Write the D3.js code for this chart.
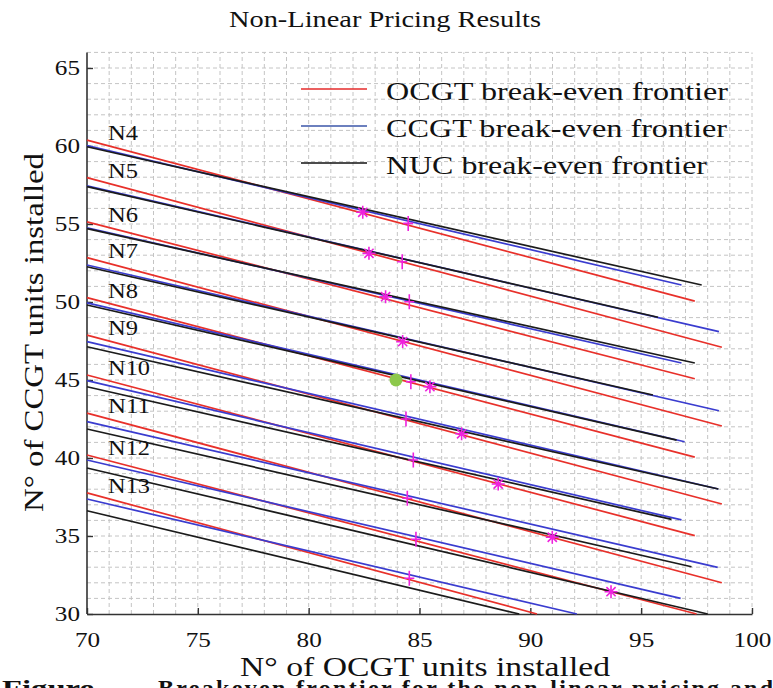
<!DOCTYPE html>
<html>
<head>
<meta charset="utf-8">
<script src="https://cdn.jsdelivr.net/npm/d3@7"></script>
<style>
  html, body { margin: 0; padding: 0; background: #fff; }
  svg { display: block; }
  svg text { font-family: "Liberation Serif", "Times New Roman", serif !important; fill: #111; }
</style>
</head>
<body>
<svg id="chart" width="773" height="688"></svg>
<script>
// Groups of installed nuclear units
const groups = ["N4", "N5", "N6", "N7", "N8", "N9", "N10", "N11", "N12", "N13"];

// Break-even frontiers: value at OCGT = 70 and the [OCGT, CCGT] end point of each line
const ocgtStart = [60.38, 57.97, 55.14, 52.84, 50.28, 47.88, 45.32, 42.88, 40.19, 37.76];
const ocgtEnd = [[97.42, 50.06], [98.64, 47.10], [97.42, 45.08], [98.64, 42.05], [97.42, 40.06],
                 [98.64, 37.05], [97.42, 35.02], [98.64, 32.00], [97.50, 30.00], [90.30, 30.00]];

const ccgtStart = [60.02, 57.44, 54.76, 52.37, 49.94, 47.46, 44.96, 42.33, 39.87, 37.37];
const ccgtEnd = [[96.82, 51.09], [98.51, 48.10], [96.82, 46.09], [98.51, 43.03], [96.96, 41.04],
                 [98.48, 38.01], [96.82, 36.03], [98.45, 32.99], [96.78, 31.00], [92.10, 30.00]];

const nucStart = [59.95, 57.40, 54.70, 52.26, 49.81, 47.13, 44.57, 41.86, 39.36, 36.62];
const nucEnd = [[97.73, 51.09], [95.76, 49.02], [97.42, 46.09], [95.53, 44.04], [96.60, 41.15],
                [98.48, 38.01], [96.37, 36.07], [97.27, 33.03], [98.00, 30.00], [89.50, 30.00]];

// Equilibrium markers
const starPoints = [[82.44, 55.75], [82.72, 53.12], [83.47, 50.34], [84.24, 47.46], [85.47, 44.57],
                    [86.90, 41.55], [88.55, 38.33], [90.99, 34.92], [93.64, 31.43]];
const plusPoints = [[84.49, 55.04], [84.22, 52.58], [84.54, 50.02], [84.61, 44.89], [84.39, 42.50],
                    [84.72, 39.87], [84.45, 37.42], [84.84, 34.79], [84.54, 32.29]];
const greenPoint = [83.94, 45.00];

const xTicks = [70, 75, 80, 85, 90, 95, 100];
const yTicks = [30, 35, 40, 45, 50, 55, 60, 65];

const seriesNames = ["OCGT break-even frontier", "CCGT break-even frontier", "NUC break-even frontier"];
const seriesColors = ["#e8302a", "#3a3ccf", "#1b1b1b"];
const legendColors = ["#e52b2b", "#3b56a8", "#111111"];

const SERIF = '"Liberation Serif", "Times New Roman", serif';

const svg = d3.select("#chart");
const x = d3.scaleLinear().domain([70, 100]).range([87, 752]);
const y = d3.scaleLinear().domain([30, 66]).range([614, 52.4]);

// Title
svg.append("text")
  .attr("x", 385).attr("y", 27)
  .attr("text-anchor", "middle")
  .attr("font-size", 24)
  .attr("textLength", 312).attr("lengthAdjust", "spacingAndGlyphs")
  .text("Non-Linear Pricing Results");

// Minor dashed grid, one unit apart
const grid = svg.append("g").attr("stroke", "#c4c4c4").attr("stroke-width", 1)
  .attr("stroke-dasharray", "4,3").attr("fill", "none");
grid.selectAll("line.gx").data(d3.range(71, 101)).join("line")
  .attr("x1", d => x(d)).attr("x2", d => x(d))
  .attr("y1", y(30)).attr("y2", y(66));
grid.selectAll("line.gy").data(d3.range(31, 67)).join("line")
  .attr("x1", x(70)).attr("x2", x(100))
  .attr("y1", d => y(d)).attr("y2", d => y(d));

// Axes
const xAxis = svg.append("g").attr("transform", `translate(0,${y(30)})`)
  .call(d3.axisBottom(x).tickValues(xTicks).tickSize(-6).tickPadding(19).tickSizeOuter(0));
const yAxis = svg.append("g").attr("transform", `translate(${x(70)},0)`)
  .call(d3.axisLeft(y).tickValues(yTicks).tickSize(-6).tickPadding(7).tickSizeOuter(0));
[xAxis, yAxis].forEach(a => {
  a.attr("font-family", null);
  a.select(".domain").attr("stroke", "#333").attr("stroke-width", 1.6);
  a.selectAll(".tick line").attr("stroke", "#333").attr("stroke-width", 1.4);
  a.selectAll(".tick text")
    .style("font-family", SERIF).attr("font-size", 20).attr("fill", "#222")
    .attr("lengthAdjust", "spacingAndGlyphs")
    .attr("textLength", function () { return this.textContent.length * 12.6; });
});
yAxis.select(".domain").attr("d", `M0,${y(66)}V${y(30)}`);

// Frontier lines
const line = d3.line().x(d => x(d[0])).y(d => y(d[1]));
const series = [
  { start: ocgtStart, end: ocgtEnd, color: seriesColors[0] },
  { start: ccgtStart, end: ccgtEnd, color: seriesColors[1] },
  { start: nucStart, end: nucEnd, color: seriesColors[2] }
];
const linesG = svg.append("g").attr("fill", "none");
groups.forEach((g, i) => {
  series.forEach(s => {
    linesG.append("path")
      .attr("d", line([[70, s.start[i]], s.end[i]]))
      .attr("stroke", s.color).attr("stroke-width", 1.7);
  });
});

// Group labels at the start of each frontier bundle
svg.append("g").selectAll("text").data(groups).join("text")
  .attr("x", x(70.95)).attr("y", (d, i) => y(ocgtStart[i]))
  .attr("font-size", 21)
  .attr("textLength", d => d.length === 2 ? 30 : 42).attr("lengthAdjust", "spacingAndGlyphs")
  .text(d => d);

// Markers
const magenta = "#ee22dd";
const stars = svg.append("g").attr("stroke", magenta).attr("stroke-width", 1.6);
starPoints.forEach(p => {
  const cx = x(p[0]), cy = y(p[1]), r = 6.5, q = r * Math.SQRT1_2;
  stars.append("path").attr("d",
    `M${cx - r},${cy}H${cx + r}M${cx},${cy - r}V${cy + r}` +
    `M${cx - q},${cy - q}L${cx + q},${cy + q}M${cx - q},${cy + q}L${cx + q},${cy - q}`);
});
const pluses = svg.append("g").attr("stroke", magenta).attr("stroke-width", 1.6);
plusPoints.forEach(p => {
  const cx = x(p[0]), cy = y(p[1]);
  pluses.append("path").attr("d", `M${cx - 5},${cy}H${cx + 5}M${cx},${cy - 7.5}V${cy + 7.5}`);
});
svg.append("circle")
  .attr("cx", x(greenPoint[0])).attr("cy", y(greenPoint[1])).attr("r", 6.5)
  .attr("fill", "#8cc84b");

// Legend
const legend = svg.append("g");
seriesNames.forEach((name, i) => {
  const ly = 89 + i * 37;
  legend.append("line").attr("x1", 301).attr("x2", 367).attr("y1", ly).attr("y2", ly)
    .attr("stroke", legendColors[i]).attr("stroke-width", 1.6);
  legend.append("text").attr("x", 386).attr("y", ly + 11)
    .attr("font-size", 25)
    .attr("textLength", [342, 341, 321][i]).attr("lengthAdjust", "spacingAndGlyphs")
    .text(name);
});

// Axis titles
svg.append("text")
  .attr("x", 425).attr("y", 676).attr("text-anchor", "middle")
  .attr("font-size", 28)
  .attr("textLength", 370).attr("lengthAdjust", "spacingAndGlyphs")
  .text("N° of OCGT units installed");
svg.append("text")
  .attr("transform", `translate(43,${(153 + 512) / 2}) rotate(-90)`)
  .attr("text-anchor", "middle")
  .attr("font-size", 28)
  .attr("textLength", 359).attr("lengthAdjust", "spacingAndGlyphs")
  .text("N° of CCGT units installed");

// Caption line below the figure, running off the bottom edge
svg.append("text")
  .attr("x", 2).attr("y", 696)
  .attr("font-size", 24).attr("font-weight", "bold")
  .attr("textLength", 92).attr("lengthAdjust", "spacingAndGlyphs")
  .text("Figure");
svg.append("text")
  .attr("x", 158).attr("y", 696)
  .attr("font-size", 24).attr("font-weight", "bold")
  .attr("textLength", 615).attr("lengthAdjust", "spacing")
  .text("Breakeven frontier for the non-linear pricing and");
</script>
</body>
</html>
